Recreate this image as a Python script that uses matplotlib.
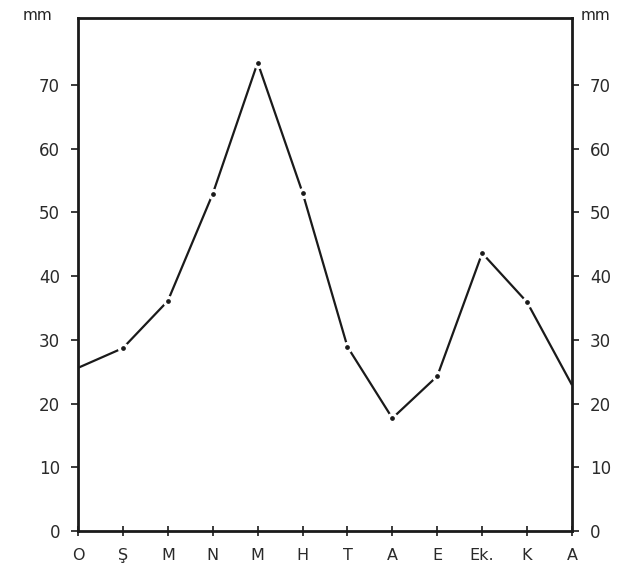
import matplotlib
matplotlib.use("Agg")
import matplotlib.pyplot as plt

months = ["O", "Ş", "M", "N", "M", "H", "T", "A", "E", "Ek.", "K", "A"]
rain_mm = [25.6, 28.7, 36.1, 52.9, 73.5, 53.1, 28.9, 17.7, 24.3, 43.6, 35.9, 22.9]
yticks = [0, 10, 20, 30, 40, 50, 60, 70]

plt.rcParams['font.family'] = ['DejaVu Sans']
fig = plt.figure(figsize=(6.33, 5.77), dpi=100)
ax = fig.add_axes([78/633, 1-531/577, (572-78)/633, (531-18)/577])
x = list(range(len(months)))

ax.plot(x, rain_mm, color="#1a1a1a", lw=1.6, zorder=2, solid_capstyle="butt")
# small gaps around the data points
ax.plot(x[1:-1], rain_mm[1:-1], ls="none", marker="o", ms=7, mfc="white", mec="white", zorder=2.1)
ax.plot(x[1:-1], rain_mm[1:-1], ls="none", marker="o", ms=2.4, mfc="#1a1a1a", mec="#1a1a1a", zorder=2.2)

ax.set_xlim(0, 11)
ax.set_ylim(0, 80.5)
ax.set_xticks(x)
ax.set_xticklabels(months)
ax.set_yticks(yticks)
ax.set_yticklabels([str(v) for v in yticks])

for s in ax.spines.values():
    s.set_linewidth(2.0)
    s.set_color("#1a1a1a")

ax.tick_params(axis="y", which="both", left=True, right=True, labelleft=True, labelright=True,
               direction="out", length=5, width=1.2, labelsize=12, colors="#1a1a1a", pad=8)
ax.tick_params(axis="x", direction="inout", length=7, width=1.2, labelsize=11.5, colors="#1a1a1a", pad=9)
for lab in ax.get_yticklabels() + ax.get_xticklabels():
    lab.set_color("#2a2a2a")

fig.text(37/633, 1-16/577, "mm", ha="center", va="center", fontsize=11, color="#222222")
fig.text(595/633, 1-16/577, "mm", ha="center", va="center", fontsize=11, color="#222222")

fig.savefig("out.png", dpi=100, facecolor="white")
